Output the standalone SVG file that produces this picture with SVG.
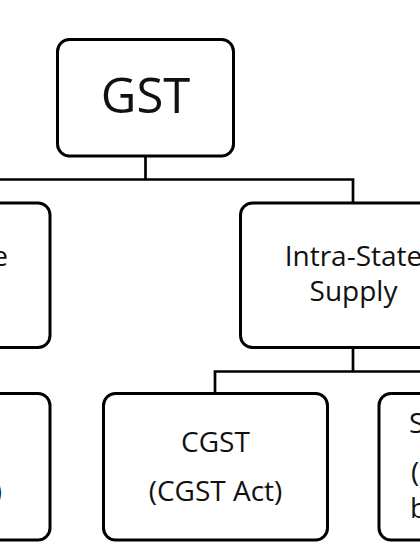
<svg xmlns="http://www.w3.org/2000/svg" width="420" height="560" viewBox="0 0 420 560">
<style>
.box{fill:#fff;stroke:#000;stroke-width:3}
.ln{fill:none;stroke:#000;stroke-width:2.7}
.t{font-family:"Open Sans","Noto Sans","Liberation Sans",sans-serif;font-size:28px;fill:#111}
.c{text-anchor:middle}
</style>
<rect width="420" height="560" fill="#fff"/>
<g id="connectors">
<path class="ln" d="M -10 179.5 H 353 V 203"/>
<path class="ln" d="M 145.5 156 V 179.5"/>
<path class="ln" d="M 353 347 V 371.5"/>
<path class="ln" d="M 215 393 V 371.5 H 430"/>
</g>
<g id="gst">
<rect class="box" x="57.5" y="39.5" width="176" height="116.5" rx="12"/>
<text class="t c" x="145.5" y="113" style="font-size:49px">GST</text>
</g>
<g id="inter-state">
<rect class="box" x="-176" y="203" width="226" height="144.5" rx="12"/>
<text class="t" x="8" y="266" text-anchor="end">Inter-State</text>
</g>
<g id="intra-state">
<rect class="box" x="240.5" y="203" width="226" height="144.5" rx="12"/>
<text class="t c" x="353.5" y="266">Intra-State</text>
<text class="t c" x="353.5" y="301">Supply</text>
</g>
<g id="igst">
<rect class="box" x="-174" y="393.5" width="224" height="146.5" rx="12"/>
<text class="t" x="2" y="501" text-anchor="end">(IGST Act)</text>
</g>
<g id="cgst">
<rect class="box" x="103.5" y="393.5" width="224" height="146.5" rx="12"/>
<text class="t c" x="215.5" y="452">CGST</text>
<text class="t c" x="215.5" y="501">(CGST Act)</text>
</g>
<g id="sgst">
<rect class="box" x="379" y="393.5" width="224" height="146.5" rx="12"/>
<text class="t" x="409" y="433">SGST</text>
<text class="t" x="411" y="482">(SGST Act</text>
<text class="t" x="410" y="518">by States)</text>
</g>
</svg>
